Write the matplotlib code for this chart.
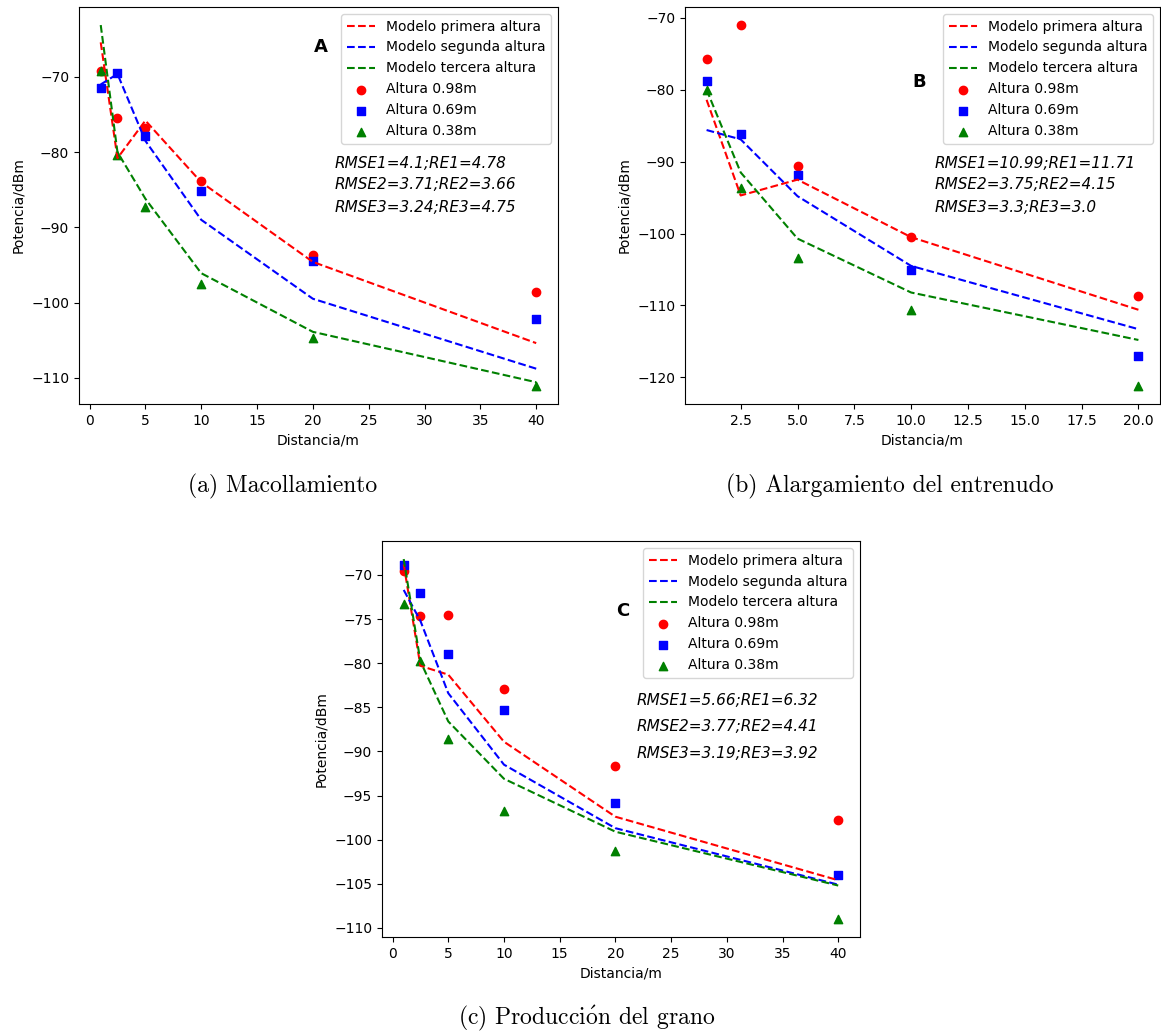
import matplotlib
matplotlib.use("Agg")
import matplotlib.pyplot as plt

plt.rcParams["mathtext.fontset"] = "cm"

# Distancias de medida (m)
dist = [1, 2.5, 5, 10, 20, 40]
dist_b = [1, 2.5, 5, 10, 20]

# Panel A - Macollamiento
a_med1 = [-69.2, -75.5, -76.8, -83.9, -93.7, -98.6]
a_med2 = [-71.5, -69.5, -77.8, -85.2, -94.5, -102.2]
a_med3 = [-69.2, -80.4, -87.3, -97.6, -104.7, -111.1]
a_mod1 = [-65.4, -80.8, -75.8, -84.0, -94.6, -105.4]
a_mod2 = [-71.0, -69.6, -78.5, -89.0, -99.5, -108.8]
a_mod3 = [-63.1, -80.0, -86.2, -96.1, -103.9, -110.6]
a_err = ["RMSE1=4.1;RE1=4.78", "RMSE2=3.71;RE2=3.66", "RMSE3=3.24;RE3=4.75"]

# Panel B - Alargamiento del entrenudo
b_med1 = [-75.7, -71.0, -90.6, -100.5, -108.7]
b_med2 = [-78.8, -86.1, -91.8, -105.1, -117.0]
b_med3 = [-80.1, -93.6, -103.4, -110.6, -121.2]
b_mod1 = [-81.4, -94.7, -92.5, -100.5, -110.6]
b_mod2 = [-85.6, -86.9, -94.8, -104.5, -113.3]
b_mod3 = [-80.0, -91.5, -100.7, -108.2, -114.8]
b_err = ["RMSE1=10.99;RE1=11.71", "RMSE2=3.75;RE2=4.15", "RMSE3=3.3;RE3=3.0"]

# Panel C - Producción del grano
c_med1 = [-69.6, -74.7, -74.5, -82.9, -91.7, -97.8]
c_med2 = [-68.9, -72.1, -79.0, -85.3, -95.9, -104.0]
c_med3 = [-73.3, -79.8, -88.6, -96.7, -101.3, -109.0]
c_mod1 = [-68.8, -80.3, -81.3, -88.9, -97.4, -104.6]
c_mod2 = [-71.7, -75.2, -83.4, -91.5, -98.7, -105.1]
c_mod3 = [-68.2, -79.8, -86.6, -93.1, -99.1, -105.2]
c_err = ["RMSE1=5.66;RE1=6.32", "RMSE2=3.77;RE2=4.41", "RMSE3=3.19;RE3=3.92"]


def panel(ax, x, mods, meds, letra, letra_pos, errores, err_x, err_y):
    ax.plot(x, mods[0], "r--", label="Modelo primera altura")
    ax.plot(x, mods[1], "b--", label="Modelo segunda altura")
    ax.plot(x, mods[2], "g--", label="Modelo tercera altura")
    ax.scatter(x, meds[0], c="red", marker="o", label="Altura 0.98m")
    ax.scatter(x, meds[1], c="blue", marker="s", label="Altura 0.69m")
    ax.scatter(x, meds[2], c="green", marker="^", label="Altura 0.38m")
    ax.legend(loc="upper right", fontsize=10)
    ax.text(letra_pos[0], letra_pos[1], letra, transform=ax.transAxes,
            fontsize=13, fontweight="bold", ha="left", va="center")
    for t, yy in zip(errores, err_y):
        ax.text(err_x, yy, t, transform=ax.transAxes, fontsize=11,
                style="italic", ha="left", va="center")
    ax.set_xlabel("Distancia/m", fontsize=10)
    ax.set_ylabel("Potencia/dBm", fontsize=10)
    ax.tick_params(labelsize=10)


fig = plt.figure(figsize=(11.61, 10.32), dpi=100)

ax_a = fig.add_axes([0.068, 0.6085, 0.4126, 0.3847])
panel(ax_a, dist, [a_mod1, a_mod2, a_mod3], [a_med1, a_med2, a_med3],
      "A", (0.49, 0.90), a_err, 0.533, [0.607, 0.552, 0.494])

ax_b = fig.add_axes([685 / 1161, 0.6085, 475 / 1161, 0.3847])
panel(ax_b, dist_b, [b_mod1, b_mod2, b_mod3], [b_med1, b_med2, b_med3],
      "B", (0.478, 0.81), b_err, 0.526, [0.607, 0.552, 0.494])

ax_c = fig.add_axes([0.329, 0.092, 0.4117, 0.3837])
panel(ax_c, dist, [c_mod1, c_mod2, c_mod3], [c_med1, c_med2, c_med3],
      "C", (0.49, 0.823), c_err, 0.533, [0.598, 0.532, 0.464])

cap = dict(fontsize=17, family=["cmr10", "DejaVu Serif"], ha="center", va="center")
fig.text(283 / 1161, 1 - 486 / 1032, "(a) Macollamiento", **cap)
fig.text(890 / 1161, 1 - 486 / 1032, "(b) Alargamiento del entrenudo", **cap)
fig.text(587 / 1161, 1 - 1018 / 1032, "(c) Producci$\\acute{\\mathrm{o}}$n del grano", **cap)

fig.savefig("out.png", dpi=100)
